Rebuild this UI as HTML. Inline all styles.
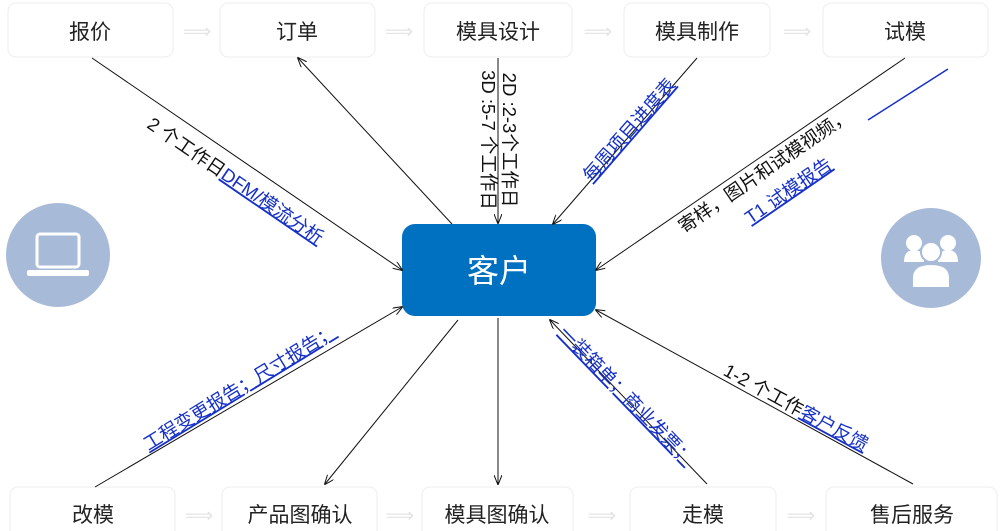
<!DOCTYPE html>
<html><head><meta charset="utf-8"><style>
html,body{margin:0;padding:0;background:#fff;}
svg{display:block;font-family:"Liberation Sans","Noto Sans CJK SC",sans-serif;}
.bx{fill:#fff;stroke:#eeeeee;stroke-width:1}
.t{font-size:21px;fill:#222;text-anchor:middle}
.l{stroke:#111;stroke-width:1;fill:none}
.lab{font-size:18.5px;fill:#111}
.blu{fill:#1530c8;text-decoration:underline}
.ar{fill:#e4e4e4;font-size:20px;text-anchor:middle}
</style></head><body>
<svg width="1000" height="531" viewBox="0 0 1000 531" xmlns="http://www.w3.org/2000/svg">
<defs><marker id="a" markerWidth="10" markerHeight="8" refX="9" refY="4" orient="auto" markerUnits="userSpaceOnUse"><path d="M0,0 L10,4 L0,8" fill="none" stroke="#111" stroke-width="1"/></marker></defs>
<rect class="bx" x="8" y="3" width="165" height="54" rx="8"/><text class="t" x="90" y="39">报价</text>
<rect class="bx" x="220" y="3" width="155" height="54" rx="8"/><text class="t" x="297" y="39">订单</text>
<rect class="bx" x="424" y="3" width="148" height="54" rx="8"/><text class="t" x="498" y="39">模具设计</text>
<rect class="bx" x="624" y="3" width="146" height="54" rx="8"/><text class="t" x="697" y="39">模具制作</text>
<rect class="bx" x="823" y="3" width="165" height="54" rx="8"/><text class="t" x="905" y="39">试模</text>
<text class="ar" x="197" y="38">⟹</text><text class="ar" x="399" y="38">⟹</text><text class="ar" x="598" y="38">⟹</text><text class="ar" x="797" y="38">⟹</text>
<rect class="bx" x="10" y="487" width="165" height="54" rx="8"/><text class="t" x="93" y="522">改模</text>
<rect class="bx" x="222" y="487" width="155" height="54" rx="8"/><text class="t" x="300" y="522">产品图确认</text>
<rect class="bx" x="422" y="487" width="151" height="54" rx="8"/><text class="t" x="497" y="522">模具图确认</text>
<rect class="bx" x="630" y="487" width="146" height="54" rx="8"/><text class="t" x="703" y="522">走模</text>
<rect class="bx" x="826" y="487" width="171" height="54" rx="8"/><text class="t" x="912" y="522">售后服务</text>
<text class="ar" x="199" y="522">⟹</text><text class="ar" x="400" y="522">⟹</text><text class="ar" x="602" y="522">⟹</text><text class="ar" x="801" y="522">⟹</text>
<circle cx="58" cy="255" r="52" fill="#A7BBD9"/>
<rect x="37" y="234" width="42" height="33" rx="3" fill="none" stroke="#fff" stroke-width="3"/>
<rect x="27" y="270" width="62" height="6" rx="2" fill="#fff"/>
<circle cx="931" cy="258" r="50" fill="#A7BBD9"/>
<circle cx="914" cy="243" r="8" fill="#fff"/><circle cx="948" cy="243" r="8" fill="#fff"/>
<path d="M904 262 q0-12 10-12 q10 0 10 12z M938 262 q0-12 10-12 q10 0 10 12z" fill="#fff"/>
<circle cx="931" cy="252" r="10" fill="#fff" stroke="#A7BBD9" stroke-width="2"/>
<path d="M912 288 v-10 q0-14 19-14 q19 0 19 14 v10z" fill="#fff" stroke="#A7BBD9" stroke-width="2"/>
<rect x="402" y="224" width="194" height="92" rx="13" fill="#0070C0"/>
<text x="499" y="282" fill="#fff" font-size="32" text-anchor="middle">客户</text>
<line class="l" x1="92" y1="58" x2="402" y2="270" marker-end="url(#a)"/>
<line class="l" x1="452" y1="224" x2="298" y2="58" marker-end="url(#a)"/>
<line class="l" x1="498" y1="58" x2="498" y2="223" marker-end="url(#a)"/>
<line class="l" x1="697" y1="58" x2="553" y2="224" marker-end="url(#a)"/>
<line class="l" x1="905" y1="58" x2="596" y2="270" marker-end="url(#a)"/>
<line x1="868" y1="120" x2="948" y2="69" stroke="#1530c8" stroke-width="1.5"/>
<line class="l" x1="95" y1="487" x2="402" y2="307" marker-end="url(#a)"/>
<line class="l" x1="458" y1="320" x2="325" y2="484" marker-end="url(#a)"/>
<line class="l" x1="498" y1="318" x2="498" y2="484" marker-end="url(#a)"/>
<line class="l" x1="707" y1="484" x2="550" y2="320" marker-end="url(#a)"/>
<line class="l" x1="913" y1="484" x2="596" y2="310" marker-end="url(#a)"/>
<text class="lab" text-anchor="middle" transform="translate(232,186) rotate(34.4)">2 个工作日<tspan class="blu">DFM/模流分析</tspan></text>
<text class="lab" text-anchor="middle" transform="translate(503,140) rotate(90)">2D :2-3个工作日</text>
<text class="lab" text-anchor="middle" transform="translate(482,140) rotate(90)">3D :5-7 个工作日</text>
<text class="lab blu" text-anchor="middle" transform="translate(634,134) rotate(-49)">每周项目进度表</text>
<text class="lab" text-anchor="middle" transform="translate(768,176) rotate(-34.5)">寄样，图片和试模视频，</text>
<text class="lab blu" text-anchor="middle" transform="translate(792,196) rotate(-34.5)">T1 试模报告</text>
<text class="lab blu" text-anchor="middle" transform="translate(243,393) rotate(-31.5)">工程变更报告；尺寸报告；</text>
<text class="lab blu" text-anchor="middle" transform="translate(622,400) rotate(46)">一装箱单；商业发票；</text>
<text class="lab" text-anchor="middle" transform="translate(793,413) rotate(28.5)">1-2 个工作<tspan class="blu">客户反馈</tspan></text>
</svg>
</body></html>
